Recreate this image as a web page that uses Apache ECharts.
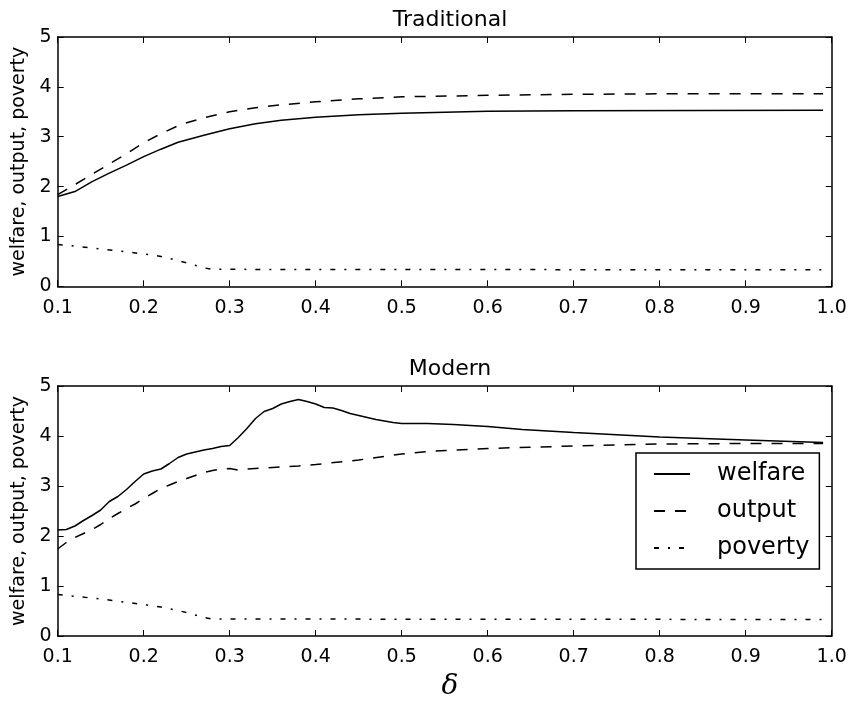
<!DOCTYPE html>
<html>
<head>
<meta charset="utf-8">
<script src="https://cdn.jsdelivr.net/npm/echarts@6/dist/echarts.min.js"></script>
<style>
  html, body { margin: 0; padding: 0; background: #fff; }
  #main { width: 852px; height: 702px; }
</style>
</head>
<body>
<div id="main"></div>
<script>
// values
var seriesNames = ['welfare', 'output', 'poverty'];
var xTicks = [0.1, 0.2, 0.3, 0.4, 0.5, 0.6, 0.7, 0.8, 0.9, 1.0];
var yTicks = [0, 1, 2, 3, 4, 5];

// Traditional
var tradWelfareX = [0.10, 0.12, 0.14, 0.16, 0.18, 0.20, 0.22, 0.24, 0.27, 0.30, 0.33, 0.36, 0.40, 0.45, 0.50, 0.60, 0.70, 0.99];
var tradWelfareY = [1.80, 1.90, 2.10, 2.27, 2.43, 2.60, 2.75, 2.89, 3.03, 3.16, 3.26, 3.33, 3.39, 3.44, 3.47, 3.51, 3.52, 3.53];
var tradOutputX = [0.10, 0.12, 0.15, 0.18, 0.20, 0.22, 0.24, 0.25, 0.27, 0.30, 0.33, 0.36, 0.40, 0.45, 0.50, 0.60, 0.70, 0.80, 0.99];
var tradOutputY = [1.84, 2.04, 2.35, 2.66, 2.88, 3.06, 3.22, 3.28, 3.38, 3.50, 3.58, 3.64, 3.70, 3.76, 3.80, 3.83, 3.85, 3.86, 3.86];
var tradPovertyX = [0.10, 0.15, 0.20, 0.22, 0.25, 0.27, 0.28, 0.99];
var tradPovertyY = [0.84, 0.75, 0.65, 0.60, 0.47, 0.37, 0.34, 0.33];

// Modern
var modWelfareX = [0.10, 0.11, 0.12, 0.13, 0.14, 0.15, 0.16, 0.17, 0.18, 0.19, 0.20, 0.21, 0.22, 0.23, 0.24, 0.25,
  0.26, 0.27, 0.28, 0.29, 0.30, 0.31, 0.32, 0.33, 0.34, 0.35, 0.36, 0.37, 0.38, 0.39, 0.40, 0.41, 0.42, 0.43,
  0.44, 0.45, 0.46, 0.47, 0.48, 0.49, 0.50, 0.53, 0.56, 0.60, 0.64, 0.70, 0.80, 0.90, 0.99];
var modWelfareY = [2.12, 2.13, 2.20, 2.31, 2.41, 2.52, 2.69, 2.79, 2.93, 3.09, 3.24, 3.30, 3.34, 3.45, 3.57, 3.64,
  3.68, 3.72, 3.75, 3.79, 3.81, 3.97, 4.15, 4.35, 4.49, 4.55, 4.64, 4.69, 4.73, 4.69, 4.64, 4.57, 4.56, 4.51,
  4.45, 4.41, 4.37, 4.33, 4.30, 4.27, 4.25, 4.25, 4.23, 4.19, 4.13, 4.07, 3.98, 3.92, 3.87];
var modOutputX = [0.10, 0.11, 0.12, 0.13, 0.14, 0.15, 0.16, 0.17, 0.18, 0.19, 0.20, 0.21, 0.22, 0.23, 0.24, 0.25,
  0.26, 0.27, 0.28, 0.29, 0.30, 0.31, 0.32, 0.35, 0.38, 0.40, 0.45, 0.50, 0.53, 0.60, 0.70, 0.80, 0.90, 0.99];
var modOutputY = [1.74, 1.87, 1.97, 2.05, 2.13, 2.23, 2.35, 2.45, 2.55, 2.64, 2.75, 2.85, 2.95, 3.02, 3.09, 3.15,
  3.21, 3.27, 3.31, 3.34, 3.35, 3.32, 3.34, 3.37, 3.40, 3.43, 3.52, 3.64, 3.69, 3.75, 3.80, 3.84, 3.85, 3.85];
var modPovertyX = [0.10, 0.15, 0.20, 0.22, 0.25, 0.27, 0.28, 0.99];
var modPovertyY = [0.83, 0.74, 0.63, 0.58, 0.47, 0.37, 0.34, 0.33];

function pairs(xs, ys) {
  return xs.map(function (x, i) { return [x, ys[i]]; });
}

var font = 'DejaVu Sans';
var styles = {
  welfare: { type: 'solid' },
  output: { type: [11, 10] },
  poverty: { type: [5, 9, 2, 9] }
};

var grids = [
  { left: 57.7, top: 37, width: 774, height: 249.3 },
  { left: 57.7, top: 386, width: 774, height: 250 }
];

var xAxes = [], yAxes = [];
grids.forEach(function (g, gi) {
  // bottom (labelled) + top (ticks only)
  ['bottom', 'top'].forEach(function (pos) {
    xAxes.push({
      type: 'value', gridIndex: gi, position: pos,
      min: xTicks[0], max: xTicks[xTicks.length - 1], interval: 0.1,
      axisLine: { show: true, onZero: false, lineStyle: { color: '#000', width: 1.5 } },
      axisTick: { show: true, inside: true, length: 6, lineStyle: { color: '#000', width: 1 } },
      axisLabel: {
        show: pos === 'bottom', margin: 12, color: '#000', fontFamily: font, fontSize: 19,
        formatter: function (v) { return v.toFixed(1); }
      },
      splitLine: { show: false }
    });
  });
  ['left', 'right'].forEach(function (pos) {
    yAxes.push({
      type: 'value', gridIndex: gi, position: pos,
      min: yTicks[0], max: yTicks[yTicks.length - 1], interval: 1,
      name: pos === 'left' ? 'welfare, output, poverty' : '',
      nameLocation: 'middle', nameRotate: 90, nameGap: 23,
      nameTextStyle: { color: '#000', fontFamily: font, fontSize: 19 },
      axisLine: { show: true, onZero: false, lineStyle: { color: '#000', width: 1.5 } },
      axisTick: { show: true, inside: true, length: 6, lineStyle: { color: '#000', width: 1 } },
      axisLabel: { show: pos === 'left', margin: 6, color: '#000', fontFamily: font, fontSize: 19 },
      splitLine: { show: false }
    });
  });
});

function line(name, gi, xs, ys) {
  return {
    name: name, type: 'line', xAxisIndex: gi * 2, yAxisIndex: gi * 2,
    data: pairs(xs, ys), showSymbol: false, symbol: 'none', animation: false,
    lineStyle: { color: '#000', width: 1.5, type: styles[name].type },
    itemStyle: { color: '#000' }
  };
}

var chart = echarts.init(document.getElementById('main'), null, { renderer: 'canvas' });
chart.setOption({
  backgroundColor: '#fff',
  animation: false,
  title: [
    { text: 'Traditional', left: 445, top: 4, textAlign: 'center',
      textStyle: { fontFamily: font, fontSize: 22, fontWeight: 'normal', color: '#000' } },
    { text: 'Modern', left: 445, top: 353, textAlign: 'center',
      textStyle: { fontFamily: font, fontSize: 22, fontWeight: 'normal', color: '#000' } },
    { text: 'δ', left: 445, top: 668, textAlign: 'center',
      textStyle: { fontFamily: 'DejaVu Serif', fontStyle: 'italic', fontSize: 28, fontWeight: 'normal', color: '#000' } }
  ],
  legend: {
    show: true,
    data: seriesNames, orient: 'vertical', left: 636, top: 453,
    padding: [9, 10, 9, 17], itemGap: 13, itemWidth: 36, itemHeight: 14,
    borderColor: '#000', borderWidth: 1.5, borderRadius: 0,
    itemStyle: { opacity: 0 },
    textStyle: { fontFamily: font, fontSize: 24, color: '#000', padding: [0, 0, 0, 22] },
    selectedMode: false
  },
  grid: grids,
  xAxis: xAxes,
  yAxis: yAxes,
  series: [
    line('welfare', 0, tradWelfareX, tradWelfareY),
    line('output', 0, tradOutputX, tradOutputY),
    line('poverty', 0, tradPovertyX, tradPovertyY),
    line('welfare', 1, modWelfareX, modWelfareY),
    line('output', 1, modOutputX, modOutputY),
    line('poverty', 1, modPovertyX, modPovertyY)
  ]
});
</script>
</body>
</html>
